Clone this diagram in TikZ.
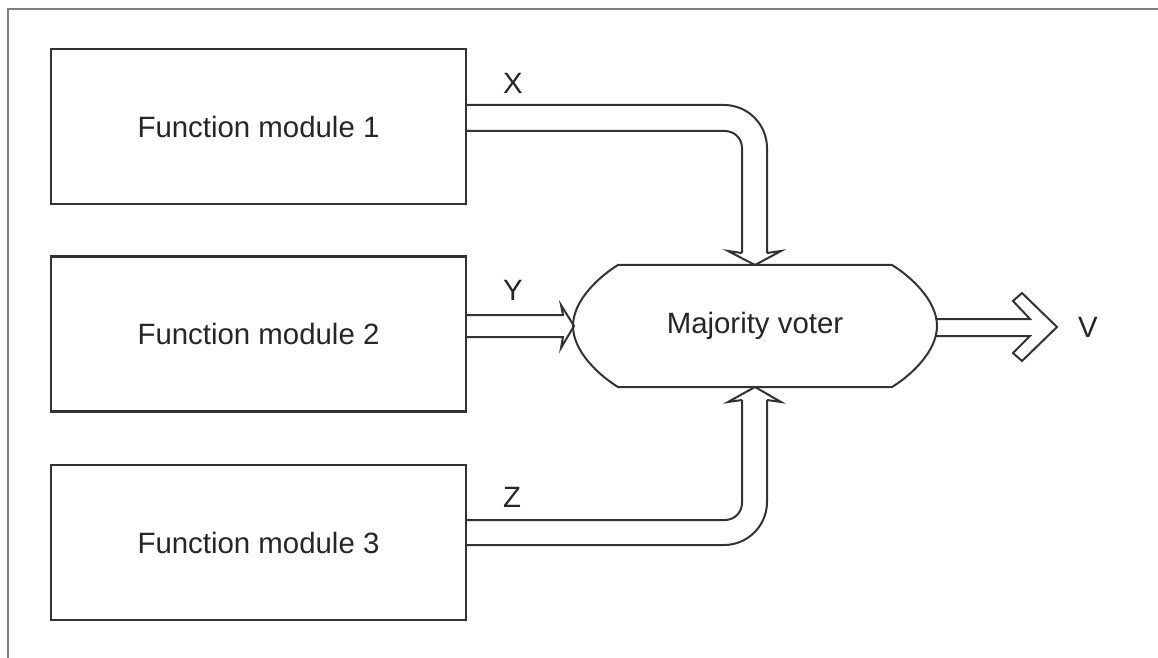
\documentclass[tikz,border=0pt]{standalone}
\usepackage{fontspec}
\setmainfont{Liberation Sans}
\begin{document}
\begin{tikzpicture}[x=0.5pt,y=-0.5pt,
  lbl/.style={font=\fontsize{14.7pt}{17pt}\selectfont, text=black!85, inner sep=0pt},
  module/.style={draw=black!80, line width=1.2pt, minimum width=207.5pt, minimum height=77.5pt,
     inner sep=0pt, outer sep=0pt, font=\fontsize{14.7pt}{17pt}\selectfont, text=black!85},
  pipe/.style={draw=black!80, line width=1pt, line join=miter},
  frame/.style={draw=black!50, line width=0.8pt}]
\useasboundingbox (0,0) rectangle (1158,658);
% frame
\draw[frame] (8,658) -- (8,9) -- (1158,9);
% modules
\node[module] (m1) at (258.5,126.5) {Function module 1};
\node[module] (m2) at (258.5,334) {Function module 2};
\node[module] (m3) at (258.5,542.5) {Function module 3};
% voter
\node[lbl] (voter) at (755,326) {Majority voter};
\draw[pipe] (618,265) -- (892,265) .. controls (910,276) and (937,300) .. (937,326)
   .. controls (937,352) and (910,376) .. (892,387) -- (618,387)
   .. controls (600,376) and (573,352) .. (573,326)
   .. controls (573,300) and (600,276) .. (618,265) -- cycle;
% X arrow
\draw[pipe, rounded corners=21.5pt] (m1.east |- 0,105) -- (767,105) -- (767,253);
\draw[pipe, rounded corners=8.5pt] (m1.east |- 0,131) -- (742,131) -- (742,253);
\draw[pipe] (742,253) -- (728,251) -- (755,265) -- (781,251) -- (767,253);
\node[lbl] (lx) at (513,83) {X};
% Y arrow
\draw[pipe] (m2.east |- 0,315) -- (563,315) -- (561,305) -- (574,326) -- (561,348) -- (563,337) -- (m2.east |- 0,337);
\node[lbl] (ly) at (513,290) {Y};
% Z arrow
\draw[pipe, rounded corners=8.5pt] (m3.east |- 0,520) -- (742,520) -- (742,400);
\draw[pipe, rounded corners=21.5pt] (m3.east |- 0,545) -- (767,545) -- (767,400);
\draw[pipe] (742,400) -- (728,402) -- (755,387) -- (781,402) -- (767,400);
\node[lbl] (lz) at (512,497) {Z};
% V arrow
\draw[pipe] (936,319) -- (1030,319) -- (1013,301) -- (1022,293) -- (1057,327) -- (1022,361) -- (1013,353) -- (1030,336) -- (936,336);
\node[lbl] (lv) at (1088,327) {V};
\end{tikzpicture}
\end{document}
